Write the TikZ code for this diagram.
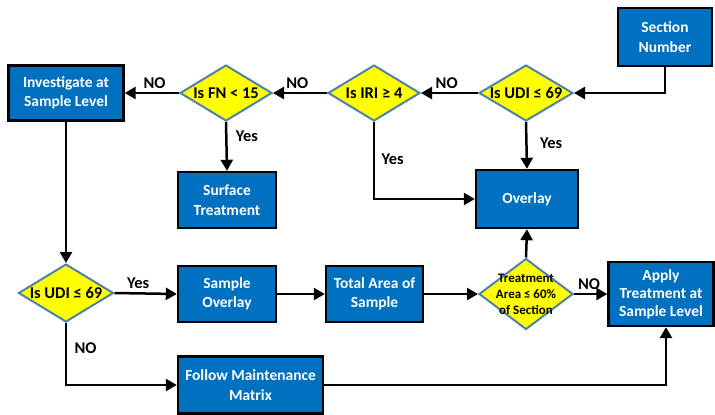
\documentclass[tikz,border=0pt]{standalone}
\usepackage{fontspec}
\setmainfont{Carlito}
\usetikzlibrary{shapes.geometric,arrows.meta}
\definecolor{boxblue}{HTML}{0070C0}
\definecolor{diaedge}{HTML}{4F81AD}
\definecolor{diayellow}{HTML}{FFFF00}
\begin{document}
\begin{tikzpicture}[x=1bp,y=-1bp,
 box/.style={draw=black, line width=2.4bp, fill=boxblue, text=white, font=\bfseries\fontsize{15.5}{19.5}\selectfont, align=center, inner sep=0pt},
 dia/.style={diamond, draw=diaedge, line width=2bp, fill=diayellow, inner sep=0pt},
 diatext/.style={font=\bfseries\fontsize{16.5}{19}\selectfont, align=center},
 arr/.style={line width=2.5bp, -{Triangle[length=11bp,width=12bp]}},
 lab/.style={font=\bfseries\fontsize{16.5}{19}\selectfont}]
\useasboundingbox (0,0) rectangle (715,414);

% boxes
\node[box, minimum width=94bp, minimum height=58bp] (sec) at (665,37) {Section\\Number};
\node[box, minimum width=115bp, minimum height=55bp] (inv) at (66,93) {Investigate at\\Sample Level};
\node[box, minimum width=98bp, minimum height=56bp] (surf) at (227,200) {Surface\\Treatment};
\node[box, minimum width=102bp, minimum height=58bp] (over) at (527,199) {Overlay};
\node[box, minimum width=98bp, minimum height=56bp] (sov) at (227,294) {Sample\\Overlay};
\node[box, minimum width=97bp, minimum height=56bp] (tot) at (374.5,294) {Total Area of\\Sample};
\node[box, minimum width=105bp, minimum height=64bp, font=\bfseries\fontsize{15.5}{18}\selectfont] (apply) at (661,294) {Apply\\Treatment at\\Sample Level};
\node[box, minimum width=145bp, minimum height=57bp] (follow) at (250.5,385) {Follow Maintenance\\Matrix};

% diamonds
\node[dia, minimum width=94bp, minimum height=56bp, label={[diatext]center:Is UDI ≤ 69}] (udi1) at (526,93) {};
\node[dia, minimum width=92bp, minimum height=56bp, label={[diatext]center:Is IRI ≥ 4}] (iri) at (374,93) {};
\node[dia, minimum width=92bp, minimum height=56bp, label={[diatext]center:Is FN < 15}] (fn) at (226,93) {};
\node[dia, minimum width=95bp, minimum height=58bp, label={[diatext]center:Is UDI ≤ 69}] (udi2) at (66,293) {};
\node[dia, minimum width=94bp, minimum height=71bp, label={[diatext, font=\bfseries\fontsize{13}{16}\selectfont]center:Treatment\\Area ≤ 60\%\\of Section}] (treat) at (526,294) {};

% connectors
\draw[arr] (sec.south) |- (udi1.east);
\draw[arr] (udi1.west) -- node[lab, above=0bp, pos=0.55] {NO} (iri.east);
\draw[arr] (iri.west) -- node[lab, above=0bp, pos=0.55] {NO} (fn.east);
\draw[arr] (fn.west) -- node[lab, above=0bp, pos=0.45] {NO} (inv.east);
\draw[arr] (fn.south) -- node[lab, right=5bp, pos=0.3] {Yes} (surf.north);
\draw[arr] (iri.south) |- node[lab, right=3bp, pos=0.24] {Yes} (over.west);
\draw[arr] (udi1.south) -- node[lab, right=9bp, pos=0.45] {Yes} (over.north);
\draw[arr] (inv.south) -- (udi2.north);
\draw[arr] (udi2.east) -- node[lab, above=0bp, pos=0.38] {Yes} (sov.west);
\draw[arr] (sov.east) -- (tot.west);
\draw[arr] (tot.east) -- (treat.west);
\draw[arr] (treat.north) -- (over.south);
\draw[arr] (treat.east) -- node[lab, above=0bp, pos=0.45] {NO} (apply.west);
\draw[arr] (udi2.south) |- node[lab, right=4bp, pos=0.2] {NO} (follow.west);
\draw[arr] (follow.east) -| ([xshift=5bp]apply.south);
\end{tikzpicture}
\end{document}
